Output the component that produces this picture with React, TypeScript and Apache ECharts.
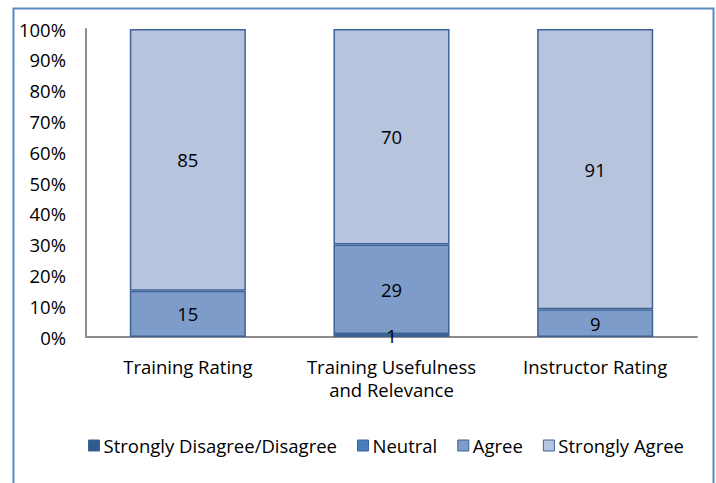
import React, { useEffect, useRef } from "react";
import * as echarts from "echarts";

const categories = ["Training Rating", "Training Usefulness\nand Relevance", "Instructor Rating"];
const seriesNames = ["Strongly Disagree/Disagree", "Neutral", "Agree", "Strongly Agree"];
const stronglyDisagree = [0, 0, 0];
const neutral = [0, 1, 0];
const agree = [15, 29, 9];
const stronglyAgree = [85, 70, 91];
const colors = ["#2f5a8f", "#4a7ebb", "#7e9cca", "#b7c4de"];

export default function App() {
  const ref = useRef<HTMLDivElement>(null);
  useEffect(() => {
    const chart = echarts.init(ref.current!, null, { renderer: "svg" });
    const font = "'Open Sans', 'Liberation Sans', sans-serif";
    const fs = 18.5;
    const data = [stronglyDisagree, neutral, agree, stronglyAgree];
    chart.setOption({
      animation: false,
      textStyle: { fontFamily: font },
      graphic: [
        {
          type: "rect",
          shape: { x: 13.5, y: 8.5, width: 700, height: 500 },
          style: { fill: "none", stroke: "#5b87c5", lineWidth: 2 },
          silent: true,
        },
      ],
      legend: {
        top: 431,
        left: 83,
        itemWidth: 11,
        itemHeight: 11,
        itemGap: 20,
        textStyle: { fontFamily: font, fontSize: fs, color: "#000", padding: [0, 0, 0, -1] },
        data: seriesNames.map((n, i) => ({
          name: n,
          icon: "rect",
          itemStyle: { color: colors[i], borderColor: "#3d6396", borderWidth: 1 },
        })),
      },
      grid: { left: 86, right: 19, top: 29, bottom: 146, containLabel: false },
      xAxis: {
        type: "category",
        data: categories,
        axisLine: { lineStyle: { color: "#8c8c8c", width: 2 } },
        axisTick: { show: false },
        axisLabel: { color: "#000", fontSize: fs, margin: 18, lineHeight: 23, fontFamily: font, interval: 0 },
      },
      yAxis: {
        type: "value",
        min: 0,
        max: 100,
        interval: 10,
        splitLine: { show: false },
        axisLine: { show: true, lineStyle: { color: "#8c8c8c", width: 2 } },
        axisTick: { show: false },
        axisLabel: {
          color: "#000",
          fontSize: fs,
          margin: 20,
          fontFamily: font,
          formatter: (v: number) => v + "%",
        },
      },
      series: seriesNames.map((n, i) => ({
        name: n,
        type: "bar",
        stack: "total",
        barWidth: "57%",
        data: data[i].map((v) => (v ? v : "-")),
        itemStyle: { color: colors[i], borderColor: "#3d6396", borderWidth: 1.5 },
        label: {
          show: true,
          position: "inside",
          color: "#000",
          fontSize: fs,
          fontFamily: font,
          formatter: (p: any) => (p.value ? String(p.value) : ""),
        },
      })),
    });
    return () => chart.dispose();
  }, []);
  return <div ref={ref} style={{ width: 716, height: 483, position: "absolute", left: 0, top: 0 }} />;
}
